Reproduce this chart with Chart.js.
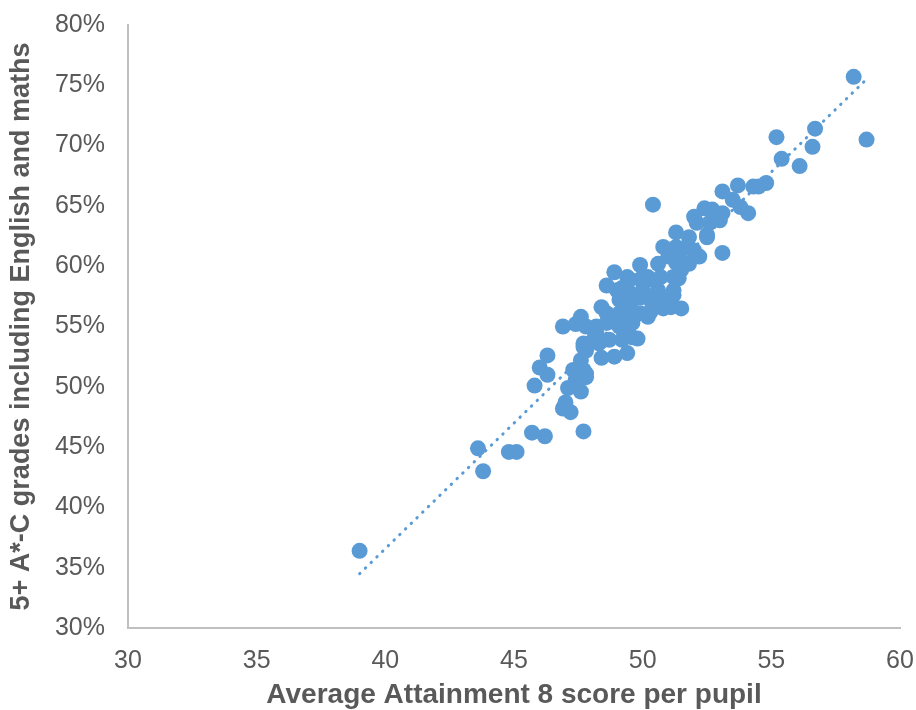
<!DOCTYPE html>
<html>
<head>
<meta charset="utf-8">
<script src="https://cdn.jsdelivr.net/npm/chart.js@4.4.1/dist/chart.umd.min.js"></script>
<style>
  body { margin: 0; background: #fff; }
</style>
</head>
<body>
<canvas id="scatter" width="916" height="710"></canvas>
<script>
// Average Attainment 8 score per pupil (x) vs % 5+ A*-C incl. English and maths (y)
const attainment8 = [39.0,43.6,43.8,44.8,45.1,45.7,46.2,47.7,45.8,46.0,46.3,46.3,46.9,47.6,47.4,46.9,47.2,47.0,47.1,47.6,47.4,47.3,47.7,47.8,47.6,47.8,47.7,48.1,48.1,48.4,
  48.9,48.6,49.2,49.9,50.2,49.4,48.9,48.4,47.8,48.2,48.6,49.1,49.6,49.2,48.7,48.3,48.6,49.1,49.1,49.5,49.5,49.9,50.3,50.3,50.4,49.9,49.6,50.4,53.1,51.5,
  51.1,52.2,52.0,52.4,52.7,53.1,52.6,52.1,52.5,51.3,51.8,50.8,51.3,51.7,52.0,51.0,51.5,51.8,50.6,49.5,50.2,50.7,51.2,51.5,51.2,50.6,50.0,51.1,50.3,
  49.6,50.3,50.8,49.8,47.8,47.7,48.2,49.3,49.1,49.6,49.9,50.7,51.2,51.4,51.3,53.1,53.7,54.1,54.3,49.4,49.0,58.2,58.7,56.7,56.6,55.2,55.4,56.1,54.8,54.5,
  53.5,53.8,53.0,52.5];
const fivePlusAC = [36.4,44.9,43.0,44.6,44.6,46.2,45.9,46.3,50.1,51.6,51.0,52.6,55.0,55.8,55.2,48.2,47.9,48.7,49.9,49.6,50.6,51.4,51.4,50.8,52.2,53.0,53.6,53.9,54.7,56.6,
  59.5,58.4,58.2,60.1,55.8,52.8,52.5,52.4,55.0,55.0,55.3,55.0,54.1,53.9,53.9,53.6,56.1,56.1,57.2,56.6,57.8,57.4,58.9,57.4,56.6,58.9,55.5,65.1,61.1,56.5,
  56.6,60.8,64.1,64.8,64.7,64.4,63.6,63.6,62.4,62.8,62.4,61.6,61.6,61.6,61.3,60.8,60.5,60.2,60.2,58.9,59.1,59.1,59.1,59.7,58.0,58.0,58.0,57.4,57.2,
  57.2,56.2,56.5,54.0,51.1,53.3,54.5,55.0,55.5,55.3,56.1,57.4,57.6,59.0,60.3,66.2,66.7,64.4,66.6,59.1,58.0,75.7,70.5,71.4,69.9,70.7,68.9,68.3,66.9,66.6,
  65.5,64.9,63.8,62.6];

// dotted trendline end points
const trendX = [39.0, 58.6];
const trendY = [34.5, 75.3];

const xTicks = [30, 35, 40, 45, 50, 55, 60];
const yTicks = [30, 35, 40, 45, 50, 55, 60, 65, 70, 75, 80];

const blue = '#5b9bd5';
const grey = '#595959';

let points = attainment8.map((x, i) => ({ x: x, y: fivePlusAC[i] }));
let trend = trendX.map((x, i) => ({ x: x, y: trendY[i] }));

new Chart(document.getElementById('scatter'), {
  type: 'scatter',
  data: {
    datasets: [
      {
        data: points,
        backgroundColor: blue,
        borderWidth: 0,
        pointRadius: 8,
        pointHoverRadius: 8
      },
      {
        type: 'line',
        data: trend,
        borderColor: blue,
        borderWidth: 3,
        borderDash: [0.5, 7.5],
        borderCapStyle: 'round',
        pointRadius: 0,
        fill: false
      }
    ]
  },
  options: {
    responsive: false,
    animation: false,
    events: [],
    layout: { autoPadding: false, padding: { top: 25, right: 16, left: 0, bottom: 0 } },
    plugins: { legend: { display: false }, tooltip: { enabled: false } },
    scales: {
      x: {
        type: 'linear',
        min: 30, max: 60,
        afterBuildTicks: s => { s.ticks = xTicks.map(v => ({ value: v })); },
        afterFit: s => { s.height = 82; s.paddingLeft = 0; s.paddingRight = 0; },
        grid: { display: false, drawTicks: false },
        border: { display: true, color: '#bfbfbf', width: 2 },
        ticks: { color: grey, padding: 18, font: { family: 'Liberation Sans, Arial', size: 25 } },
        title: {
          display: true,
          text: 'Average Attainment 8 score per pupil',
          color: grey,
          padding: { top: 0, bottom: 1 },
          font: { family: 'Liberation Sans, Arial', size: 28, weight: 'bold', lineHeight: 1 }
        }
      },
      y: {
        min: 30, max: 80,
        afterBuildTicks: s => { s.ticks = yTicks.map(v => ({ value: v })); },
        afterFit: s => { s.width = 128; s.paddingTop = 0; s.paddingBottom = 0; },
        grid: { display: false, drawTicks: false },
        border: { display: true, color: '#bfbfbf', width: 2 },
        ticks: {
          color: grey, padding: 23,
          font: { family: 'Liberation Sans, Arial', size: 25 },
          callback: v => v + '%'
        },
        title: {
          display: true,
          text: '5+ A*-C grades including English and maths',
          color: grey,
          padding: { top: 8, bottom: 0 },
          font: { family: 'Liberation Sans, Arial', size: 27, weight: 'bold', lineHeight: 1 }
        }
      }
    }
  }
});
</script>
</body>
</html>
